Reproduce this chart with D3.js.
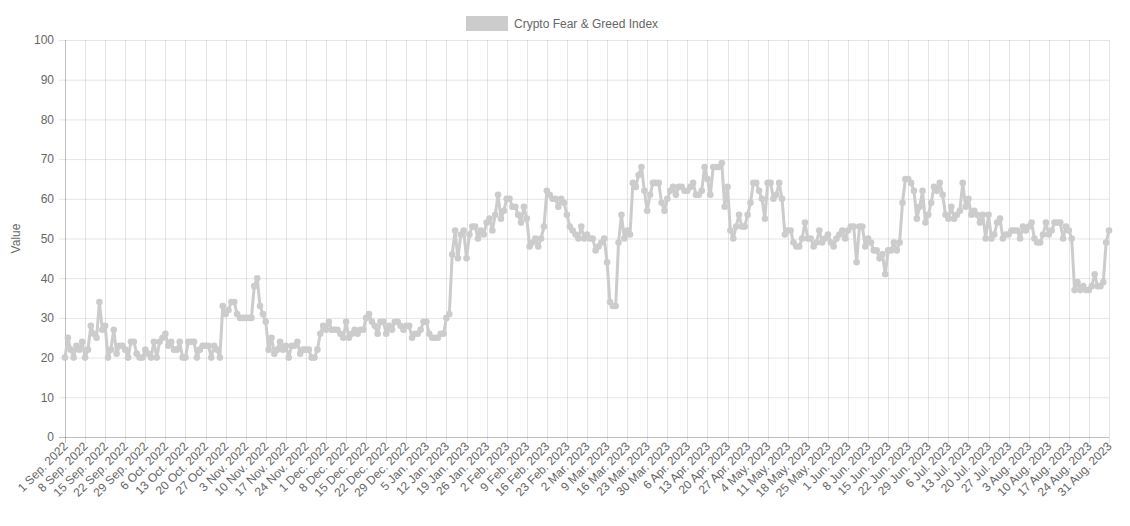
<!DOCTYPE html>
<html>
<head>
<meta charset="utf-8">
<script src="https://cdn.jsdelivr.net/npm/d3@7"></script>
<style>
	body { margin: 0; background: #fff; font-family: Arial, "Liberation Sans", sans-serif; }
	text { fill: #666; font-size: 12px; }
</style>
</head>
<body>
<svg id="chart" width="1130" height="526"></svg>
<script>
// series name
var seriesName = 'Crypto Fear & Greed Index';

// first and last day of the series
var startDate = new Date(2022, 8, 1);
var endDate = new Date(2023, 7, 31);

// daily index values, one row per week starting 1 Sep 2022
var values = [
	20, 25, 22, 20, 23, 22, 24,
	20, 22, 28, 26, 25, 34, 27,
	28, 20, 22, 27, 21, 23, 23,
	22, 20, 24, 24, 21, 20, 20,
	22, 21, 20, 24, 20, 24, 25,
	26, 23, 24, 22, 22, 24, 20,
	20, 24, 24, 24, 20, 22, 23,
	23, 23, 20, 23, 22, 20, 33,
	31, 32, 34, 34, 31, 30, 30,
	30, 30, 30, 38, 40, 33, 31,
	29, 22, 25, 21, 22, 24, 22,
	23, 20, 23, 23, 24, 21, 22,
	22, 22, 20, 20, 22, 26, 28,
	27, 29, 27, 27, 27, 26, 25,
	29, 25, 26, 27, 26, 27, 27,
	30, 31, 29, 28, 26, 29, 29,
	26, 28, 27, 29, 29, 28, 27,
	28, 28, 25, 26, 26, 27, 29,
	29, 26, 25, 25, 25, 26, 26,
	30, 31, 46, 52, 45, 51, 52,
	45, 51, 53, 53, 50, 52, 51,
	54, 55, 52, 56, 61, 55, 57,
	60, 60, 58, 58, 56, 54, 58,
	55, 48, 49, 50, 48, 50, 53,
	62, 61, 60, 60, 58, 60, 59,
	56, 53, 52, 51, 50, 53, 50,
	51, 50, 50, 47, 48, 49, 50,
	44, 34, 33, 33, 49, 56, 50,
	52, 51, 64, 63, 66, 68, 62,
	57, 61, 64, 64, 64, 59, 57,
	60, 62, 63, 61, 63, 63, 62,
	62, 63, 64, 61, 61, 62, 68,
	65, 61, 68, 68, 68, 69, 58,
	63, 52, 50, 53, 56, 53, 53,
	56, 59, 64, 64, 62, 60, 55,
	64, 64, 60, 61, 64, 60, 51,
	52, 52, 49, 48, 48, 50, 54,
	50, 50, 48, 49, 52, 49, 50,
	51, 49, 48, 50, 51, 52, 50,
	52, 53, 53, 44, 53, 53, 48,
	50, 49, 47, 47, 45, 46, 41,
	47, 47, 49, 47, 49, 59, 65,
	65, 64, 62, 55, 58, 62, 54,
	56, 59, 63, 62, 64, 61, 56,
	55, 58, 55, 56, 57, 64, 58,
	60, 56, 57, 56, 54, 56, 50,
	56, 50, 51, 54, 55, 50, 51,
	51, 52, 52, 52, 50, 53, 52,
	53, 54, 50, 49, 49, 51, 54,
	51, 52, 54, 54, 54, 50, 53,
	52, 50, 37, 39, 37, 38, 37,
	37, 38, 41, 38, 38, 39, 49,
	52
];

// y ticks
var yTicks = d3.range(0, 101, 10);

var lineColor = 'rgb(204,204,204)';

const init = () => {
	var svg = d3.select('#chart');
	var margin = { top: 40, right: 21, bottom: 89, left: 65 };
	var width = 1130 - margin.left - margin.right;
	var height = 526 - margin.top - margin.bottom;

	var days = d3.timeDay.range(startDate, d3.timeDay.offset(endDate, 1));
	var data = days.map(function (d, i) {
		return { date: d, value: values[i] };
	});
	var labelDays = days.filter(function (d, i) { return i % 7 === 0; });
	var fmt = d3.timeFormat('%-d %b. %Y');

	var x = d3.scaleTime().domain([startDate, endDate]).range([0, width]);
	var y = d3.scaleLinear().domain([0, 100]).range([height, 0]);

	var g = svg.append('g').attr('transform', `translate(${margin.left},${margin.top})`);

	// grid
	g.append('g')
		.selectAll('line')
		.data(yTicks)
		.join('line')
		.attr('x1', -6).attr('x2', width)
		.attr('y1', function (d) { return y(d) + 0.5; })
		.attr('y2', function (d) { return y(d) + 0.5; })
		.attr('stroke', function (d) { return d === 0 ? 'rgba(0,0,0,0.25)' : 'rgba(0,0,0,0.1)'; });
	g.append('g')
		.selectAll('line')
		.data(labelDays)
		.join('line')
		.attr('x1', function (d) { return Math.round(x(d)) + 0.5; })
		.attr('x2', function (d) { return Math.round(x(d)) + 0.5; })
		.attr('y1', 0).attr('y2', height + 6)
		.attr('stroke', function (d, i) { return i === 0 ? 'rgba(0,0,0,0.25)' : 'rgba(0,0,0,0.1)'; });

	// axes
	var yAxis = g.append('g').call(d3.axisLeft(y).tickValues(yTicks).tickSize(0).tickPadding(11));
	yAxis.select('.domain').remove();
	var xAxis = g.append('g')
		.attr('transform', `translate(0,${height})`)
		.call(d3.axisBottom(x).tickValues(labelDays).tickFormat(fmt).tickSize(0));
	xAxis.select('.domain').remove();
	xAxis.selectAll('text')
		.attr('text-anchor', 'end')
		.attr('dy', null)
		.attr('y', 0)
		.attr('transform', 'translate(3,10) rotate(-45)');
	g.selectAll('.tick text').style('fill', '#666').style('font-size', '12px');

	svg.append('text')
		.attr('transform', `translate(20,${margin.top + height / 2}) rotate(-90)`)
		.attr('text-anchor', 'middle')
		.text('Value');

	// line + points
	var line = d3.line()
		.x(function (d) { return x(d.date); })
		.y(function (d) { return y(d.value); });
	g.append('path')
		.datum(data)
		.attr('d', line)
		.attr('fill', 'none')
		.attr('stroke', lineColor)
		.attr('stroke-width', 3)
		.attr('stroke-linejoin', 'round');
	g.append('g')
		.selectAll('circle')
		.data(data)
		.join('circle')
		.attr('cx', function (d) { return x(d.date); })
		.attr('cy', function (d) { return y(d.value); })
		.attr('r', 3.3)
		.attr('fill', lineColor);

	// legend
	var legend = svg.append('g').attr('transform', 'translate(466,16)');
	legend.append('rect').attr('width', 42).attr('height', 15).attr('fill', lineColor);
	legend.append('text').attr('x', 48).attr('y', 12).text(seriesName);
};

window.addEventListener('load', init);
</script>
</body>
</html>
